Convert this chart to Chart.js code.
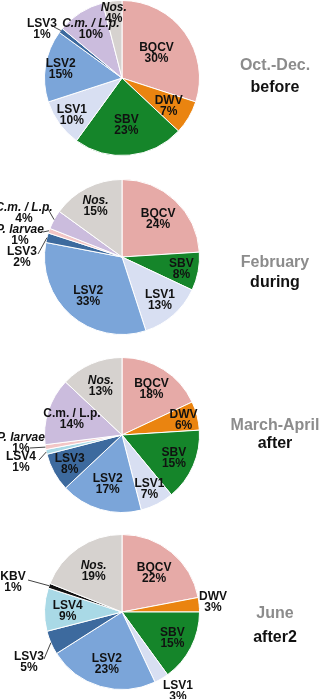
<!DOCTYPE html>
<html>
<head>
<meta charset="utf-8">
<script src="https://cdn.jsdelivr.net/npm/chart.js@4"></script>
<style>
  body { margin: 0; width: 320px; height: 699px; overflow: hidden; background: #fff; position: relative; font-family: "Liberation Sans", Arial, sans-serif; }
  canvas { position: absolute; left: 0; }
  .t { position: absolute; left: 228px; width: 94px; text-align: center; font-weight: bold; font-size: 16px; line-height: 18px; color: #111; white-space: nowrap; }
  .p { color: #8c8c8c; }
</style>
</head>
<body>
<canvas id="c0" width="320" height="180" style="top:-2px"></canvas>
<canvas id="c1" width="320" height="180" style="top:177px"></canvas>
<canvas id="c2" width="320" height="180" style="top:355px"></canvas>
<canvas id="c3" width="320" height="180" style="top:532px"></canvas>

<div class="t p" style="top:56px">Oct.-Dec.</div>
<div class="t" style="top:78px">before</div>
<div class="t p" style="top:253px">February</div>
<div class="t" style="top:273px">during</div>
<div class="t p" style="top:416px">March-April</div>
<div class="t" style="top:434px">after</div>
<div class="t p" style="top:604px">June</div>
<div class="t" style="top:628px">after2</div>

<script>
// data
const octDecLabels = ["BQCV", "DWV", "SBV", "LSV1", "LSV2", "LSV3", "C.m. / L.p.", "Nos."];
const octDecValues = [30, 7, 23, 10, 15, 1, 10, 4];

const febLabels = ["BQCV", "SBV", "LSV1", "LSV2", "LSV3", "P. larvae", "C.m. / L.p.", "Nos."];
const febValues = [24, 8, 13, 33, 2, 1, 4, 15];

const marAprLabels = ["BQCV", "DWV", "SBV", "LSV1", "LSV2", "LSV3", "LSV4", "P. larvae", "C.m. / L.p.", "Nos."];
const marAprValues = [18, 6, 15, 7, 17, 8, 1, 1, 14, 13];

const juneLabels = ["BQCV", "DWV", "SBV", "LSV1", "LSV2", "LSV3", "LSV4", "KBV", "Nos."];
const juneValues = [22, 3, 15, 3, 23, 5, 9, 1, 19];

const periods = ["Oct.-Dec.", "February", "March-April", "June"];
const phases = ["before", "during", "after", "after2"];

// colours per category
const colours = {
  "BQCV": "#e6aaa7",
  "DWV": "#ea8410",
  "SBV": "#15852a",
  "LSV1": "#d8dff2",
  "LSV2": "#7ba5d9",
  "LSV3": "#3d6a9e",
  "LSV4": "#a9d9e6",
  "C.m. / L.p.": "#cbbcdd",
  "P. larvae": "#f2c6c6",
  "KBV": "#111111",
  "Nos.": "#d6d2cf"
};

// label placement: a number = fraction of radius inside the slice,
// an object = outside text offset from the centre (t) and leader end (e)
const place = [
  [0.55, 0.7, 0.6, 0.8, 0.8, { t: [-80, -49], e: [-68, -51] }, 0.75, 0.85],
  [0.68, 0.78, 0.74, 0.66,
    { t: [-100, 0], e: [-84, -3] },
    { t: [-102, -22], e: [-79, -25] },
    { t: [-98, -44], e: [-74, -48] },
    0.75],
  [0.71, 0.82, 0.73, 0.78, 0.66, 0.77,
    { t: [-101, 27], e: [-83, 25] },
    { t: [-101, 8], e: [-92, 13] },
    0.68, 0.69],
  [0.65, { t: [91, -10] }, 0.73, { t: [56, 79] }, 0.7,
    { t: [-93, 50], e: [-78, 47] }, 0.7,
    { t: [-109, -30], e: [-94, -32] }, 0.65]
];

const italics = [
  ["Nos.", "C.m. / L.p."],
  ["Nos.", "C.m. / L.p.", "P. larvae"],
  ["Nos.", "P. larvae"],
  ["Nos."]
];

const labelFont = "bold 12px 'Liberation Sans Narrow', 'Liberation Sans', Arial, sans-serif";

const sliceLabels = {
  id: "sliceLabels",
  afterDatasetsDraw(chart, args, opts) {
    const ctx = chart.ctx;
    const meta = chart.getDatasetMeta(0);
    const labels = chart.data.labels;
    const values = chart.data.datasets[0].data;
    ctx.save();
    ctx.textAlign = "center";
    ctx.textBaseline = "middle";
    meta.data.forEach((arc, i) => {
      const p = arc.getProps(["x", "y", "startAngle", "endAngle", "outerRadius"], true);
      const mid = (p.startAngle + p.endAngle) / 2;
      const pos = opts.place[i];
      let tx, ty;
      if (typeof pos === "number") {
        tx = p.x + Math.cos(mid) * p.outerRadius * pos;
        ty = p.y + Math.sin(mid) * p.outerRadius * pos;
      } else {
        tx = p.x + pos.t[0];
        ty = p.y + pos.t[1];
        if (pos.e) {
          ctx.strokeStyle = "#444";
          ctx.lineWidth = 1;
          ctx.beginPath();
          ctx.moveTo(p.x + Math.cos(mid) * p.outerRadius, p.y + Math.sin(mid) * p.outerRadius);
          ctx.lineTo(p.x + pos.e[0], p.y + pos.e[1]);
          ctx.stroke();
        }
      }
      const it = opts.italics.includes(labels[i]) ? "italic " : "";
      ctx.fillStyle = "#111";
      ctx.font = it + labelFont;
      ctx.fillText(labels[i], tx, ty - 5);
      ctx.font = labelFont;
      ctx.fillText(values[i] + "%", tx, ty + 6);
    });
    ctx.restore();
  }
};

const sets = [
  [octDecLabels, octDecValues],
  [febLabels, febValues],
  [marAprLabels, marAprValues],
  [juneLabels, juneValues]
];

sets.forEach((s, k) => {
  new Chart(document.getElementById("c" + k), {
    type: "pie",
    data: {
      labels: s[0],
      datasets: [{
        data: s[1],
        backgroundColor: s[0].map(l => colours[l]),
        borderColor: "#ffffff",
        borderWidth: 1
      }]
    },
    options: {
      responsive: false,
      animation: false,
      layout: { padding: { left: 44, right: 120, top: 2, bottom: 22 } },
      plugins: {
        legend: { display: false },
        tooltip: { enabled: false },
        sliceLabels: { place: place[k], italics: italics[k] }
      }
    },
    plugins: [sliceLabels]
  });
});
</script>
</body>
</html>
